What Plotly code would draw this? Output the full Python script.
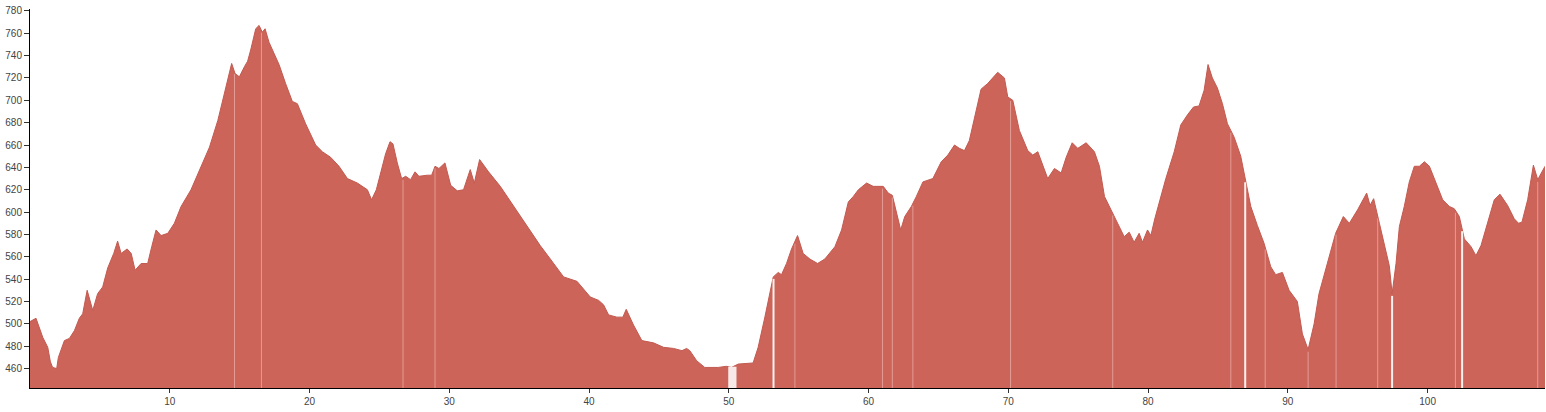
import numpy as np
import plotly.graph_objects as go

distance_km = [
    0.0, 0.43, 0.91, 1.27, 1.46, 1.62, 1.91, 2.03, 2.46, 2.82, 3.18, 3.53, 3.77, 4.09, 4.49,
    4.84, 5.2, 5.56, 5.99, 6.27, 6.52, 6.95, 7.24, 7.52, 7.95, 8.42, 8.71, 9.02, 9.38, 9.86,
    10.33, 10.81, 11.52, 12.24, 12.84, 13.44, 13.91, 14.1, 14.43, 14.67, 14.98, 15.34, 15.57,
    15.79, 16.15, 16.39, 16.62, 16.82, 17.1, 17.46, 17.82, 18.29, 18.77, 19.13, 19.72, 20.44,
    20.92, 21.51, 22.11, 22.71, 23.42, 24.14, 24.44, 24.78, 25.09, 25.44, 25.76, 25.97, 26.28,
    26.59, 26.88, 27.23, 27.55, 27.83, 28.43, 28.74, 28.98, 29.26, 29.69, 30.1, 30.57, 31.02,
    31.5, 31.79, 32.17, 32.81, 33.65, 34.6, 35.56, 36.51, 37.23, 38.18, 39.14, 40.09, 40.69,
    41.04, 41.4, 41.99, 42.42, 42.66, 43.18, 43.78, 44.61, 45.33, 46.05, 46.65, 46.98, 47.21,
    47.7, 48.28, 49.24, 49.83, 50.19, 50.67, 51.74, 52.1, 52.58, 52.94, 53.18, 53.54, 53.77,
    54.13, 54.49, 54.92, 55.32, 55.8, 56.35, 56.87, 57.59, 58.07, 58.55, 58.91, 59.27, 59.86,
    60.33, 61.05, 61.41, 61.7, 62.01, 62.3, 62.59, 63.06, 63.42, 63.89, 64.6, 65.2, 65.67,
    66.15, 66.5, 66.86, 67.21, 67.69, 68.05, 68.52, 68.88, 69.24, 69.72, 69.96, 70.32, 70.79,
    71.39, 71.75, 72.11, 72.47, 72.82, 73.3, 73.78, 74.14, 74.57, 74.97, 75.57, 76.16, 76.52,
    76.88, 77.47, 77.85, 78.29, 78.65, 79.0, 79.36, 79.6, 79.96, 80.2, 80.48, 80.91, 81.27,
    81.87, 82.34, 82.82, 83.25, 83.65, 84.01, 84.29, 84.6, 84.96, 85.32, 85.68, 86.16, 86.63,
    86.99, 87.35, 87.82, 88.3, 88.78, 89.13, 89.61, 90.09, 90.68, 91.04, 91.45, 91.88, 92.23,
    92.83, 93.42, 93.97, 94.4, 94.99, 95.64, 95.88, 96.14, 96.55, 96.98, 97.26, 97.46, 97.74,
    97.98, 98.33, 98.69, 99.05, 99.41, 99.77, 100.13, 100.6, 101.08, 101.56, 101.91, 102.27,
    102.63, 103.11, 103.46, 103.82, 104.3, 104.77, 105.18, 105.72, 106.2, 106.51, 106.75,
    107.16, 107.57, 107.88, 108.4,
]
elevation_m = [
    502, 505, 488, 479, 466, 461, 460, 470, 485, 487, 494, 505, 509, 530, 512,
    527, 533, 550, 563, 574, 563, 567, 563, 548, 554, 554, 569, 584, 579, 581,
    590, 605, 620, 641, 658, 682, 706, 715, 733, 724, 721, 730, 735,
    745, 764, 767, 761, 764, 752, 742, 732, 715, 699, 697, 679, 660,
    654, 649, 641, 630, 626, 620, 611, 620, 635, 652, 663, 661, 644,
    630, 632, 629, 636, 632, 633, 633, 641, 639, 644, 624, 619, 620,
    638, 626, 647, 636, 623, 605, 587, 570, 558, 542, 538, 524, 521,
    517, 508, 506, 506, 513, 499, 485, 483, 479, 478, 476, 478, 476,
    467, 461, 461, 462, 461, 464, 465, 479, 506, 527, 542, 546, 544,
    554, 567, 579, 563, 558, 554, 558, 569, 584, 609, 614, 620, 626,
    623, 623, 617, 615, 599, 584, 596, 605, 614, 627, 630, 645, 651,
    660, 657, 655, 664, 691, 710, 715, 720, 725, 720, 703, 700, 673,
    655, 651, 654, 641, 630, 639, 635, 649, 662, 657, 662, 654, 641,
    614, 599, 590, 578, 582, 573, 581, 573, 584, 579, 594, 614, 630,
    654, 678, 687, 694, 695, 709, 732, 720, 711, 697, 679, 667, 650,
    626, 605, 588, 572, 551, 544, 546, 530, 520, 491, 477, 500, 527,
    554, 581, 596, 590, 602, 617, 606, 612, 590, 566, 552, 527, 554,
    587, 605, 627, 641, 641, 645, 641, 627, 611, 605, 603, 596,
    576, 569, 561, 570, 590, 611, 616, 606, 594, 590, 591,
    611, 642, 629, 641,
]

# positions (km) of the faint segment seams visible in the fill
seam_km = [14.63, 16.56, 26.69, 28.98, 53.2, 54.73, 61.0, 61.7, 63.17, 70.16,
           77.47, 85.92, 86.95, 88.38, 91.45, 93.45, 96.43, 97.46, 101.99, 102.47, 107.88]
strong_seams_km = [53.2, 86.95, 97.46, 102.47]
missing_span_km = [49.96, 50.55]

x_ticks = [10, 20, 30, 40, 50, 60, 70, 80, 90, 100]
y_ticks = [460, 480, 500, 520, 540, 560, 580, 600, 620, 640, 660, 680, 700, 720, 740, 760, 780]

fill_color = "#CD645A"
Y_MIN, Y_MAX = 442.6, 781.7

fig = go.Figure()
fig.add_trace(go.Scatter(
    x=distance_km, y=elevation_m, mode="lines",
    line=dict(color="#C25A50", width=1),
    fill="tozeroy", fillcolor=fill_color,
    hoverinfo="x+y", showlegend=False,
))

shapes = []
for s in seam_km:
    top = float(np.interp(s, distance_km, elevation_m))
    strong = s in strong_seams_km
    shapes.append(dict(
        type="line", xref="x", yref="y", x0=s, x1=s, y0=Y_MIN, y1=top - 2,
        line=dict(color="rgba(255,255,255,0.9)" if strong else "rgba(255,225,220,0.45)",
                  width=2 if strong else 1),
        layer="above",
    ))
gap_top = float(np.interp(missing_span_km[0], distance_km, elevation_m))
shapes.append(dict(
    type="rect", xref="x", yref="y",
    x0=missing_span_km[0], x1=missing_span_km[1], y0=Y_MIN, y1=gap_top,
    fillcolor="#F7E9E7", line=dict(width=0), layer="above",
))

fig.update_layout(
    width=1546, height=412,
    margin=dict(l=30, r=1, t=9, b=24, autoexpand=False),
    paper_bgcolor="white", plot_bgcolor="white",
    font=dict(family="Liberation Sans, Arial, sans-serif", size=10, color="#444"),
    shapes=shapes,
    xaxis=dict(
        range=[0, 108.4], tickvals=x_ticks, ticks="outside", ticklen=4,
        tickcolor="#333", showline=True, linecolor="#000", linewidth=1,
        showgrid=False, zeroline=False, automargin=False,
        tickfont=dict(size=10, color="#444"),
    ),
    yaxis=dict(
        range=[Y_MIN, Y_MAX], tickvals=y_ticks, ticks="outside", ticklen=5,
        tickcolor="#333", showline=True, linecolor="#000", linewidth=1,
        showgrid=False, zeroline=False, automargin=False,
        tickfont=dict(size=10, color="#444"),
    ),
)

fig.write_html(
    "out.html",
    config={"displayModeBar": False},
    post_script="document.body.style.margin='0';document.body.style.overflow='hidden';",
)
